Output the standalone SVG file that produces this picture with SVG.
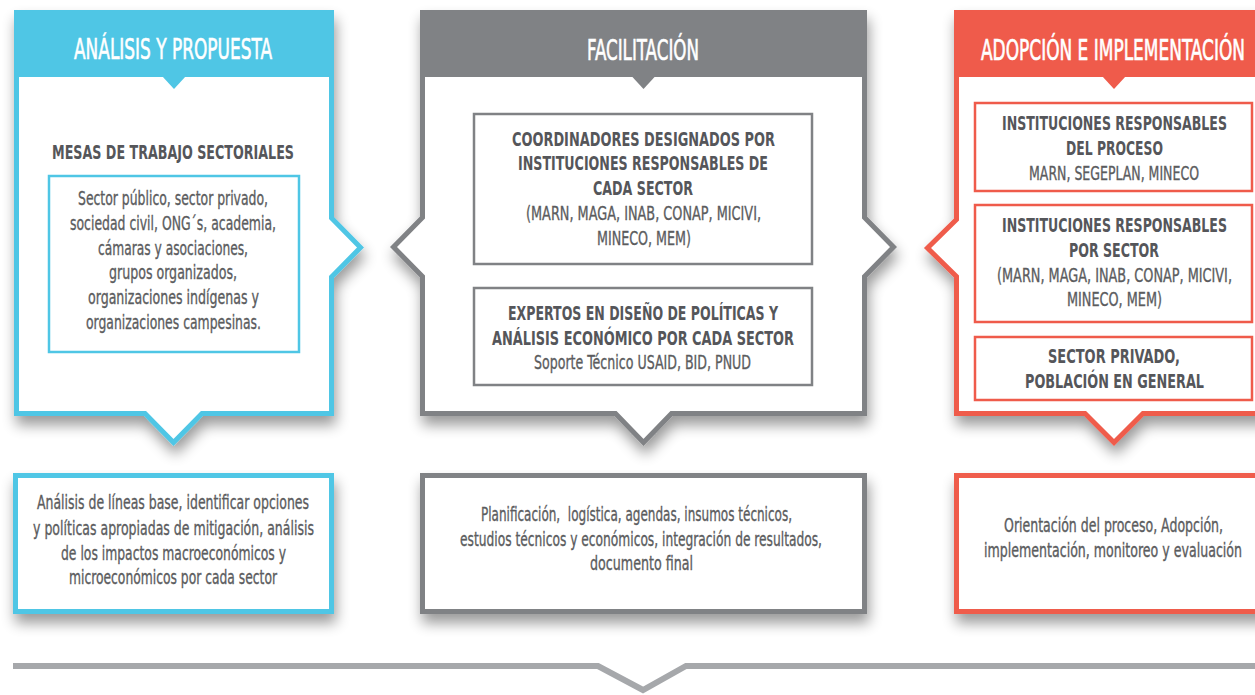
<svg xmlns="http://www.w3.org/2000/svg" width="1255" height="695" viewBox="0 0 1255 695">
<defs>
<filter id="sh" x="-10%" y="-10%" width="125%" height="130%">
<feGaussianBlur in="SourceAlpha" stdDeviation="7"/>
<feOffset dx="2" dy="9" result="b"/>
<feComponentTransfer><feFuncA type="linear" slope="0.4"/></feComponentTransfer>
<feMerge><feMergeNode/><feMergeNode in="SourceGraphic"/></feMerge>
</filter>
<style>
text{font-family:"Liberation Sans Narrow","DejaVu Sans Condensed","Liberation Sans",Arial,sans-serif;font-stretch:condensed;text-anchor:middle;fill:#5b5c5e;font-size:20px;stroke:#5b5c5e;stroke-width:0.35}
.hd{fill:#ffffff;stroke:#ffffff;stroke-width:0.6;font-size:28px}
.b{font-weight:bold;fill:#55565a;stroke:none}
.sm{font-size:11px;stroke-width:0.2}
.hd.sm{font-size:15.4px;stroke-width:0.35}
.cy{stroke:#4fc6e5}
.gy{stroke:#808285}
.rd{stroke:#ef5b4b}
.panel{fill:#ffffff;stroke-width:5;stroke-linejoin:miter}
.inner{fill:none;stroke-width:2.5}
.bbox{fill:#ffffff;stroke-width:5}
</style>
</defs>
<rect width="1255" height="695" fill="#ffffff"/>

<g id="connectors">
<path d="M13,666 H598 L643,690 L686,666 H1260" fill="none" stroke="#a6a8ab" stroke-width="6"/>
</g>

<g id="panel-analisis">
<path class="panel cy" filter="url(#sh)" d="M16.5,12.5 H331.5 V218 L360.5,247.5 L331.5,277 V413.5 H202 L173.5,442.5 L145,413.5 H16.5 Z"/>
<rect x="14" y="10" width="320" height="67" fill="#4fc6e5"/>
<polygon points="162,76 186,76 174,89" fill="#4fc6e5"/>
<text class="hd" x="173" y="59" textLength="198" lengthAdjust="spacingAndGlyphs">ANÁLISIS Y PROPUESTA</text>
<text class="b" x="173" y="159" textLength="242" lengthAdjust="spacingAndGlyphs">MESAS DE TRABAJO SECTORIALES</text>
<rect class="inner cy" x="49" y="176" width="250" height="176"/>
<text x="173" y="205" textLength="190" lengthAdjust="spacingAndGlyphs">Sector público, sector privado,</text>
<text x="173" y="230" textLength="206" lengthAdjust="spacingAndGlyphs">sociedad civil, ONG´s, academia,</text>
<text x="173" y="255" textLength="150" lengthAdjust="spacingAndGlyphs">cámaras y asociaciones,</text>
<text x="173" y="279" textLength="128" lengthAdjust="spacingAndGlyphs">grupos organizados,</text>
<text x="173.5" y="304" textLength="171" lengthAdjust="spacingAndGlyphs">organizaciones indígenas y</text>
<text x="173.5" y="329" textLength="175" lengthAdjust="spacingAndGlyphs">organizaciones campesinas.</text>
</g>

<g id="panel-facilitacion">
<path class="panel gy" filter="url(#sh)" d="M422.5,12.5 H864.5 V217.5 L893.5,247 L864.5,276.5 V413.5 H671.5 L643.5,442.5 L615.5,413.5 H422.5 V276.5 L393.5,247 L422.5,217.5 Z"/>
<rect x="420" y="10" width="447" height="67" fill="#808285"/>
<polygon points="631.5,76 655.5,76 643.5,89" fill="#808285"/>
<text class="hd" x="643" y="60" textLength="112" lengthAdjust="spacingAndGlyphs">FACILITACIÓN</text>
<rect class="inner gy" x="474" y="114" width="338" height="150"/>
<text class="b" x="643.5" y="146" textLength="263" lengthAdjust="spacingAndGlyphs">COORDINADORES DESIGNADOS POR</text>
<text class="b" x="643" y="170" textLength="250" lengthAdjust="spacingAndGlyphs">INSTITUCIONES RESPONSABLES DE</text>
<text class="b" x="643" y="195" textLength="100" lengthAdjust="spacingAndGlyphs">CADA SECTOR</text>
<text x="643.5" y="220" textLength="235" lengthAdjust="spacingAndGlyphs">(MARN, MAGA, INAB, CONAP, MICIVI,</text>
<text x="644" y="245" textLength="94" lengthAdjust="spacingAndGlyphs">MINECO, MEM)</text>
<rect class="inner gy" x="474" y="288" width="338" height="97"/>
<text class="b" x="643" y="320" textLength="270" lengthAdjust="spacingAndGlyphs">EXPERTOS EN DISEÑO DE POLÍTICAS Y</text>
<text class="b" x="643" y="345" textLength="302" lengthAdjust="spacingAndGlyphs">ANÁLISIS ECONÓMICO POR CADA SECTOR</text>
<text x="642.5" y="369" textLength="217" lengthAdjust="spacingAndGlyphs">Soporte Técnico USAID, BID, PNUD</text>
</g>

<g id="panel-adopcion">
<path class="panel rd" filter="url(#sh)" d="M956.5,12.5 H1271.5 V413.5 H1143 L1114,442.5 L1085,413.5 H956.5 V276.5 L927.5,248 L956.5,219.5 Z"/>
<rect x="954" y="10" width="320" height="67" fill="#ef5b4b"/>
<polygon points="1102,76 1126,76 1114,89" fill="#ef5b4b"/>
<text class="hd sm" transform="translate(1113,60) scale(1,1.818)" textLength="264" lengthAdjust="spacingAndGlyphs">ADOPCIÓN E IMPLEMENTACIÓN</text>
<rect class="inner rd" x="975" y="103" width="277" height="88"/>
<text class="b sm" transform="translate(1114.5,130) scale(1,1.818)" textLength="225" lengthAdjust="spacingAndGlyphs">INSTITUCIONES RESPONSABLES</text>
<text class="b sm" transform="translate(1114.5,155) scale(1,1.818)" textLength="97" lengthAdjust="spacingAndGlyphs">DEL PROCESO</text>
<text class="sm" transform="translate(1114,180) scale(1,1.818)" textLength="170" lengthAdjust="spacingAndGlyphs">MARN, SEGEPLAN, MINECO</text>
<rect class="inner rd" x="975" y="205" width="277" height="117"/>
<text class="b sm" transform="translate(1114.5,232) scale(1,1.818)" textLength="225" lengthAdjust="spacingAndGlyphs">INSTITUCIONES RESPONSABLES</text>
<text class="b sm" transform="translate(1114,257) scale(1,1.818)" textLength="90" lengthAdjust="spacingAndGlyphs">POR SECTOR</text>
<text class="sm" transform="translate(1114.5,282) scale(1,1.818)" textLength="235" lengthAdjust="spacingAndGlyphs">(MARN, MAGA, INAB, CONAP, MICIVI,</text>
<text class="sm" transform="translate(1114.5,306) scale(1,1.818)" textLength="95" lengthAdjust="spacingAndGlyphs">MINECO, MEM)</text>
<rect class="inner rd" x="975" y="337" width="277" height="63"/>
<text class="b sm" transform="translate(1114,363) scale(1,1.818)" textLength="132" lengthAdjust="spacingAndGlyphs">SECTOR PRIVADO,</text>
<text class="b sm" transform="translate(1114.5,388) scale(1,1.818)" textLength="179" lengthAdjust="spacingAndGlyphs">POBLACIÓN EN GENERAL</text>
</g>

<g id="box-analisis">
<rect class="bbox cy" filter="url(#sh)" x="15.5" y="475.5" width="316" height="136"/>
<text x="173" y="509" textLength="272" lengthAdjust="spacingAndGlyphs">Análisis de líneas base, identificar opciones</text>
<text x="173.5" y="535" textLength="281" lengthAdjust="spacingAndGlyphs">y políticas apropiadas de mitigación, análisis</text>
<text x="173.5" y="560" textLength="225" lengthAdjust="spacingAndGlyphs">de los impactos macroeconómicos y</text>
<text x="173" y="584" textLength="208" lengthAdjust="spacingAndGlyphs">microeconómicos por cada sector</text>
</g>

<g id="box-facilitacion">
<rect class="bbox gy" filter="url(#sh)" x="422.5" y="475.5" width="442" height="136"/>
<text x="636.5" y="521" textLength="311" lengthAdjust="spacingAndGlyphs" xml:space="preserve">Planificación,  logística, agendas, insumos técnicos,</text>
<text x="641" y="546" textLength="362" lengthAdjust="spacingAndGlyphs">estudios técnicos y económicos, integración de resultados,</text>
<text x="641.5" y="570" textLength="103" lengthAdjust="spacingAndGlyphs">documento final</text>
</g>

<g id="box-adopcion">
<rect class="bbox rd" filter="url(#sh)" x="956.5" y="475.5" width="315" height="136"/>
<text class="sm" transform="translate(1113.5,532) scale(1,1.818)" textLength="219" lengthAdjust="spacingAndGlyphs">Orientación del proceso, Adopción,</text>
<text class="sm" transform="translate(1113,557) scale(1,1.818)" textLength="258" lengthAdjust="spacingAndGlyphs">implementación, monitoreo y evaluación</text>
</g>
</svg>
